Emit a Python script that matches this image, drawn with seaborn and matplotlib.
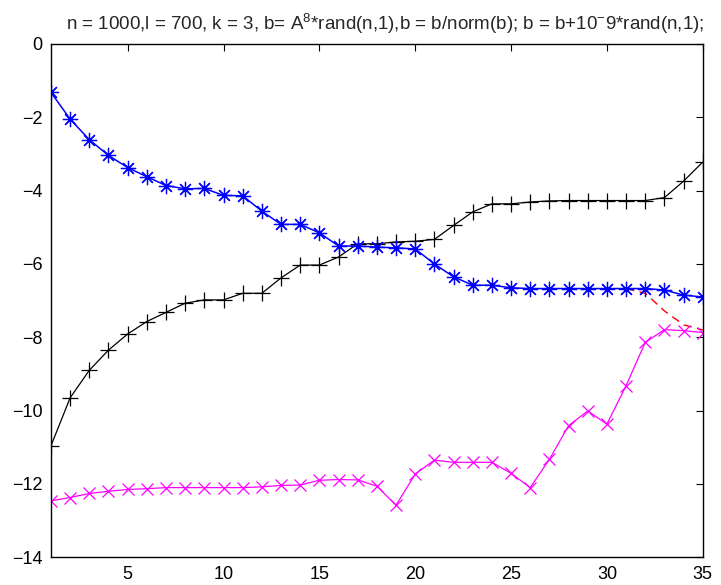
import matplotlib
matplotlib.use("Agg")
import matplotlib.pyplot as plt
import seaborn as sns
import pandas as pd
import numpy as np

# values
idx = list(range(1, 36))
blue_vals = [-1.32, -2.05, -2.61, -3.04, -3.37, -3.62, -3.86, -3.95, -3.94, -4.13,
             -4.14, -4.56, -4.92, -4.92, -5.15, -5.51, -5.51, -5.54, -5.56, -5.59,
             -6.00, -6.35, -6.58, -6.58, -6.65, -6.67, -6.67, -6.67, -6.67, -6.67,
             -6.67, -6.67, -6.71, -6.85, -6.90]
black_vals = [-10.96, -9.65, -8.90, -8.35, -7.91, -7.57, -7.32, -7.07, -6.98, -6.98,
              -6.80, -6.80, -6.38, -6.03, -6.03, -5.81, -5.45, -5.45, -5.40, -5.38,
              -5.33, -4.95, -4.58, -4.36, -4.36, -4.31, -4.28, -4.27, -4.27, -4.27,
              -4.27, -4.27, -4.19, -3.74, -3.22]
magenta_vals = [-12.46, -12.37, -12.26, -12.20, -12.15, -12.13, -12.10, -12.10, -12.10, -12.10,
                -12.10, -12.08, -12.04, -12.03, -11.90, -11.88, -11.89, -12.06, -12.58, -11.73,
                -11.35, -11.41, -11.41, -11.41, -11.71, -12.10, -11.33, -10.41, -10.01, -10.37,
                -9.32, -8.14, -7.79, -7.82, -7.87]
red_idx = [31, 32, 33, 34, 35]
red_vals = [-6.67, -6.80, -7.28, -7.66, -7.80]

xticks = [5, 10, 15, 20, 25, 30, 35]
yticks = [-14, -12, -10, -8, -6, -4, -2, 0]
title = (r"n = 1000,l = 700, k = 3, b= A$^{8}$*rand(n,1),b = b/norm(b); "
         r"b = b+10$^{-}$9*rand(n,1);")

df = pd.DataFrame({"i": idx, "blue": blue_vals, "black": black_vals, "magenta": magenta_vals})
df_red = pd.DataFrame({"i": red_idx, "red": red_vals})

sns.set_style("white")
plt.rcParams["font.family"] = ["Liberation Sans", "DejaVu Sans"]
plt.rcParams["mathtext.fontset"] = "custom"
plt.rcParams["mathtext.rm"] = "Liberation Sans"
plt.rcParams["mathtext.default"] = "rm"

fig = plt.figure(figsize=(7.21, 5.85), dpi=100)
ax = fig.add_axes([0.0707, 0.0474, 0.904, 0.8774])

sns.lineplot(data=df, x="i", y="black", color="black", lw=0.9, marker="+",
             markersize=11, markeredgewidth=0.9, markeredgecolor="black", ax=ax)
sns.lineplot(data=df_red, x="i", y="red", color="red", lw=1.0,
             linestyle=(0, (6, 4)), ax=ax)
sns.lineplot(data=df, x="i", y="blue", color="blue", lw=1.1, marker=(8, 2, 0),
             markersize=11, markeredgewidth=0.9, markeredgecolor="blue", ax=ax)
sns.lineplot(data=df, x="i", y="magenta", color="magenta", lw=0.9, marker="x",
             markersize=8, markeredgewidth=0.9, markeredgecolor="magenta", ax=ax)

ax.set_xlim(1, 35)
ax.set_ylim(-14, 0)
ax.set_xticks(xticks)
ax.set_yticks(yticks)
ax.set_xlabel("")
ax.set_ylabel("")
ax.tick_params(direction="in", length=5, width=0.8, top=True, right=True,
               labelsize=13, pad=6, colors="black")
for s in ax.spines.values():
    s.set_color("black")
    s.set_linewidth(1.0)
ax.set_title(title, fontsize=13.5, pad=10, x=0.513)

fig.savefig("out.png", dpi=100)
